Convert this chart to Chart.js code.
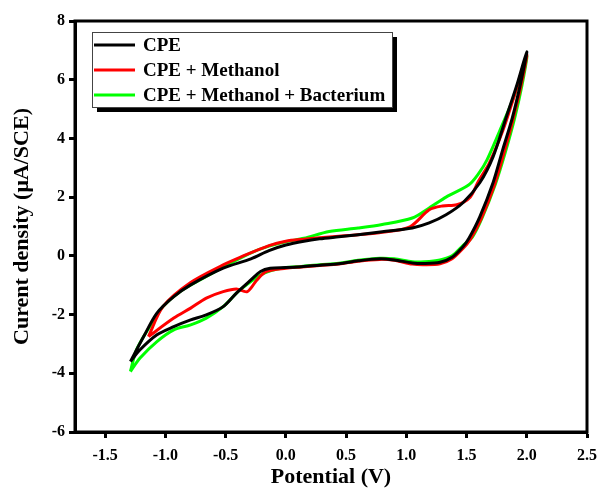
<!DOCTYPE html>
<html>
<head>
<meta charset="utf-8">
<script src="https://cdn.jsdelivr.net/npm/chart.js@4.4.1/dist/chart.umd.min.js"></script>
<style>
  html, body { margin: 0; padding: 0; background: #fff; }
  #wrap { width: 600px; height: 488px; }
</style>
</head>
<body>
<div id="wrap"><canvas id="miGrafico" width="600" height="488"></canvas></div>
<script>
// CPE (black)
const cpeV = [-1.29,-1.18,-1.07,-0.93,-0.79,-0.52,-0.29,-0.14,0.0,0.15,0.28,0.44,0.6,0.8,1.05,1.19,1.33,1.47,1.61,1.72,1.83,1.92,2.0,
              1.95,1.88,1.80,1.72,1.61,1.52,1.47,1.38,1.28,1.15,1.05,0.9,0.78,0.6,0.44,0.28,0.13,0.0,-0.13,-0.21,-0.29,-0.41,-0.52,-0.66,-0.79,-0.93,-1.07,-1.21,-1.29]
const cpeI = [-3.60,-2.75,-1.95,-1.39,-0.99,-0.42,-0.1,0.18,0.37,0.5,0.58,0.65,0.72,0.82,0.95,1.12,1.40,1.81,2.49,3.37,4.73,5.85,6.95,
              5.9,4.7,3.61,2.49,1.33,0.6,0.31,-0.05,-0.22,-0.26,-0.24,-0.14,-0.10,-0.17,-0.27,-0.32,-0.37,-0.40,-0.42,-0.53,-0.82,-1.27,-1.73,-2.01,-2.18,-2.41,-2.69,-3.2,-3.60]

// CPE + Methanol (red)
const metV = [-1.14,-1.02,-0.79,-0.52,-0.38,-0.14,0.0,0.15,0.28,0.44,0.6,0.8,1.03,1.19,1.30,1.42,1.53,1.6,1.69,1.8,1.9,2.0,
              1.95,1.88,1.81,1.73,1.62,1.53,1.47,1.38,1.28,1.15,1.05,0.9,0.78,0.6,0.44,0.28,0.13,0.0,-0.16,-0.24,-0.32,-0.41,-0.52,-0.66,-0.79,-0.93,-1.14]
const metI = [-2.75,-1.73,-0.91,-0.31,-0.05,0.35,0.5,0.57,0.62,0.67,0.72,0.8,0.99,1.57,1.7,1.74,2.0,2.55,3.17,4.25,5.5,6.85,
              5.75,4.55,3.5,2.4,1.25,0.55,0.25,-0.1,-0.27,-0.3,-0.28,-0.15,-0.12,-0.18,-0.28,-0.33,-0.38,-0.42,-0.53,-0.82,-1.22,-1.13,-1.22,-1.44,-1.78,-2.12,-2.75]

// CPE + Methanol + Bacterium (green)
const bacV = [-1.29,-1.24,-1.13,-1.02,-0.88,-0.66,-0.43,-0.28,-0.14,0.0,0.15,0.36,0.6,0.8,1.05,1.19,1.33,1.52,1.6,1.67,1.78,1.9,2.0,
              1.96,1.9,1.82,1.74,1.63,1.55,1.47,1.38,1.28,1.15,1.05,0.9,0.78,0.6,0.44,0.28,0.13,0.0,-0.18,-0.38,-0.52,-0.66,-0.79,-0.93,-1.07,-1.21,-1.29]
const bacI = [-3.94,-3.2,-2.41,-1.73,-1.22,-0.70,-0.19,0.12,0.33,0.48,0.6,0.83,0.95,1.07,1.29,1.63,2.0,2.42,2.8,3.27,4.3,5.5,6.8,
              5.8,4.7,3.5,2.45,1.3,0.65,0.35,0.0,-0.14,-0.2,-0.2,-0.1,-0.08,-0.15,-0.25,-0.3,-0.36,-0.4,-0.59,-1.16,-1.73,-2.12,-2.35,-2.52,-2.92,-3.48,-3.94]

const xTicks = [-1.5,-1.0,-0.5,0.0,0.5,1.0,1.5,2.0,2.5]
const fuente = '"Liberation Serif", "Times New Roman", serif'

function puntos(vs, is) {
    return vs.map((v, k) => ({ x: v, y: is[k] }))
}

const marco = {
    id: 'marco',
    afterDatasetsDraw(chart) {
        const a = chart.chartArea
        const c = chart.ctx
        c.save()
        c.strokeStyle = '#000'
        c.lineWidth = 3
        c.strokeRect(a.left, a.top, a.right - a.left, a.bottom - a.top)
        c.restore()
    }
}

const leyenda = {
    id: 'leyenda',
    afterDraw(chart) {
        const c = chart.ctx
        const x0 = 92, y0 = 32, w = 300, h = 75
        c.save()
        c.fillStyle = '#000'
        c.fillRect(x0 + 5, y0 + 5, w, h)
        c.fillStyle = '#fff'
        c.fillRect(x0, y0, w, h)
        c.strokeStyle = '#444'
        c.lineWidth = 1
        c.strokeRect(x0 + 0.5, y0 + 0.5, w, h)
        c.font = 'bold 19px ' + fuente
        c.textBaseline = 'middle'
        chart.data.datasets.forEach((ds, k) => {
            const y = y0 + 13 + k * 25
            c.strokeStyle = ds.borderColor
            c.lineWidth = 3
            c.beginPath()
            c.moveTo(x0 + 2, y)
            c.lineTo(x0 + 43, y)
            c.stroke()
            c.fillStyle = '#000'
            c.fillText(ds.label, x0 + 51, y + 1)
        })
        c.restore()
    }
}

const ctx = document.getElementById('miGrafico').getContext('2d')
new Chart(ctx, {
    type: 'scatter',
    data: {
        datasets: [
            { label: 'CPE', data: puntos(cpeV, cpeI), borderColor: '#000000' },
            { label: 'CPE + Methanol', data: puntos(metV, metI), borderColor: '#ff0000' },
            { label: 'CPE + Methanol + Bacterium', data: puntos(bacV, bacI), borderColor: '#00ff00' }
        ]
    },
    options: {
        responsive: false,
        animation: false,
        showLine: true,
        elements: {
            point: { radius: 0 },
            line: { borderWidth: 3, tension: 0.3, fill: false }
        },
        layout: { padding: { top: 21, right: 13, left: 0, bottom: 0 } },
        plugins: {
            legend: { display: false },
            tooltip: { enabled: false }
        },
        scales: {
            x: {
                type: 'linear',
                min: -1.75,
                max: 2.5,
                afterFit: s => { s.height = 56; s.paddingRight = 0; s.paddingLeft = 0 },
                afterBuildTicks: s => { s.ticks = xTicks.map(v => ({ value: v })) },
                border: { display: true, color: '#000', width: 3 },
                grid: { drawOnChartArea: false, drawTicks: true, tickLength: 6, tickWidth: 3, tickColor: '#000' },
                ticks: {
                    color: '#000', padding: 8,
                    font: { family: fuente, size: 16, weight: 'bold' },
                    callback: v => Number(v).toFixed(1)
                },
                title: {
                    display: true, text: 'Potential (V)', color: '#000', padding: { top: 0, bottom: 0 },
                    font: { family: fuente, size: 22, weight: 'bold', lineHeight: 1 }
                }
            },
            y: {
                type: 'linear',
                min: -6,
                max: 8,
                afterFit: s => { s.width = 75; s.paddingTop = 0; s.paddingBottom = 0 },
                border: { display: true, color: '#000', width: 3 },
                grid: { drawOnChartArea: false, drawTicks: true, tickLength: 6, tickWidth: 3, tickColor: '#000' },
                ticks: {
                    color: '#000', padding: 4, stepSize: 2,
                    font: { family: fuente, size: 16, weight: 'bold' }
                },
                title: {
                    display: true, text: 'Curent density (μA/SCE)', color: '#000', padding: { top: 11, bottom: 0 },
                    font: { family: fuente, size: 22, weight: 'bold', lineHeight: 1 }
                }
            }
        }
    },
    plugins: [marco, leyenda]
});
</script>
</body>
</html>
